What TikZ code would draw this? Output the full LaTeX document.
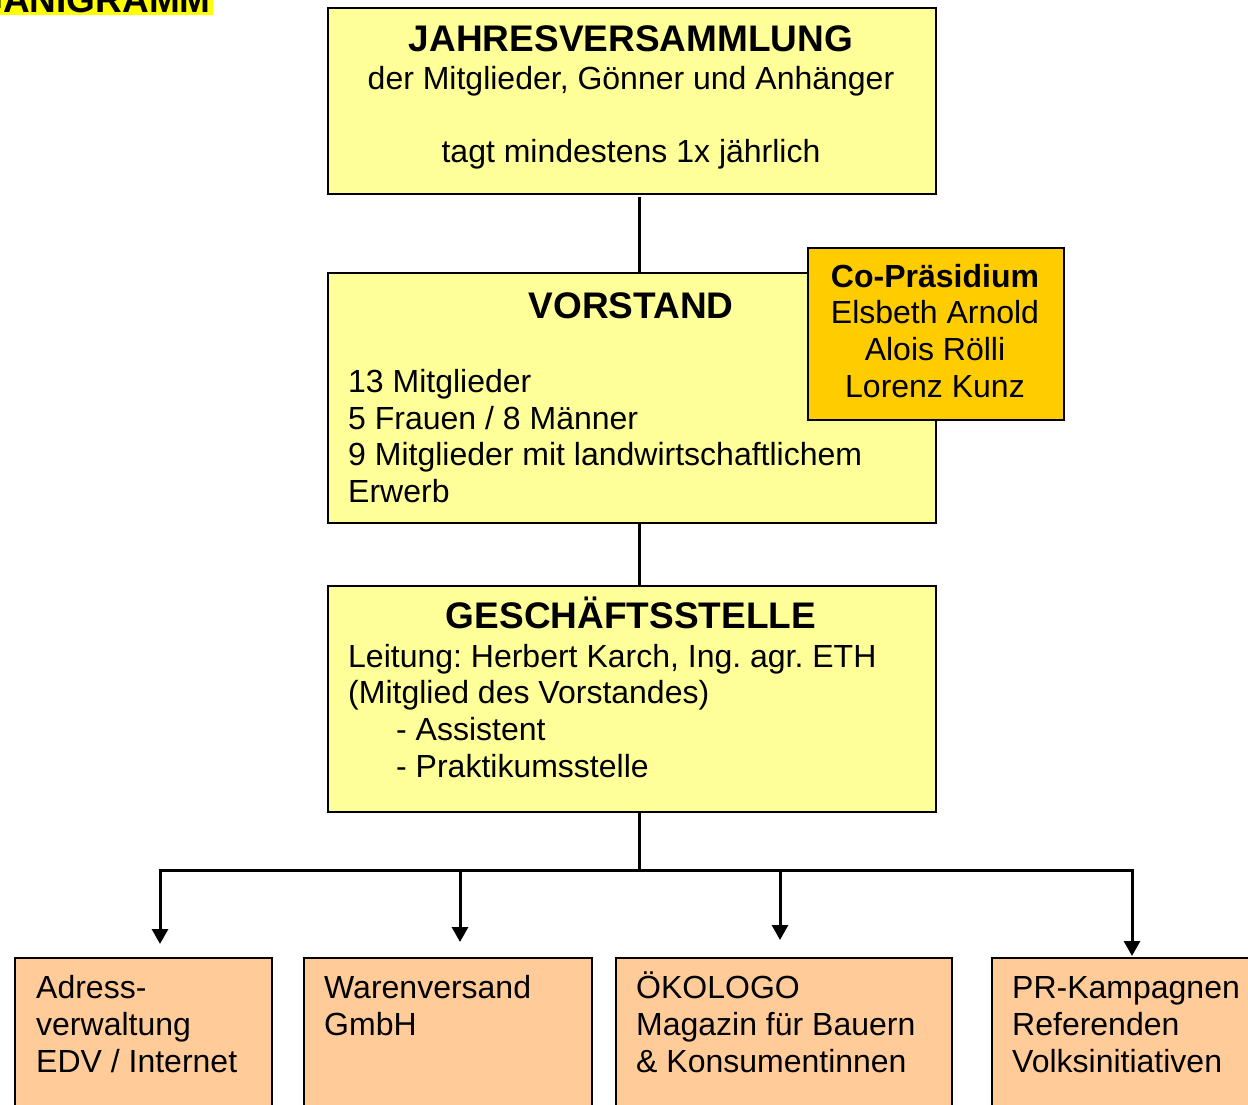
\documentclass[tikz,border=0pt]{standalone}
\usepackage{fontspec}
\setmainfont{Liberation Sans}
\usetikzlibrary{arrows.meta}
\definecolor{lightyel}{HTML}{FFFF99}
\definecolor{goldbox}{HTML}{FFCC00}
\definecolor{peach}{HTML}{FFCC99}
\definecolor{hilite}{HTML}{FFFF00}
\frenchspacing
\begin{document}
\begin{tikzpicture}[x=1pt,y=-1pt,
  box/.style={draw=black,line width=2pt,anchor=north west,inner sep=0pt},
  big/.style={font=\fontsize{37}{42}\selectfont\bfseries,inner sep=0pt},
  mid/.style={font=\fontsize{32}{36.5}\selectfont\bfseries,inner sep=0pt},
  txt/.style={font=\fontsize{32}{36.5}\selectfont,inner sep=0pt},
  conn/.style={line width=3pt},
  arr/.style={conn,-{Triangle[length=15pt,width=16pt]}}]
\useasboundingbox (0,0) rectangle (1248,1105);
\clip (0,0) rectangle (1248,1105);
\fill[white] (0,0) rectangle (1248,1105);
% title (cut off at the top, as in the reference)
\fill[hilite] (0,0) rectangle (213,15);
\node[big,anchor=base east] (title) at (211,13) {ORGANIGRAMM};
% boxes
\node[box,fill=lightyel,minimum width=608pt,minimum height=186pt] (jv) at (327,7) {};
\node[box,fill=lightyel,minimum width=608pt,minimum height=250pt] (vs) at (327,272) {};
\node[box,fill=goldbox,minimum width=256pt,minimum height=172pt] (cp) at (807,247) {};
\node[box,fill=lightyel,minimum width=608pt,minimum height=226pt] (gs) at (327,585) {};
\node[box,fill=peach,minimum width=257pt,minimum height=170pt] (b1) at (14,957) {};
\node[box,fill=peach,minimum width=288pt,minimum height=170pt] (b2) at (303,957) {};
\node[box,fill=peach,minimum width=336pt,minimum height=170pt] (b3) at (615,957) {};
\node[box,fill=peach,minimum width=300pt,minimum height=170pt] (b4) at (991,957) {};
% Jahresversammlung text
\node[big,anchor=base] (jvh) at (631,52) {JAHRESVERSAMMLUNG};
\node[txt,anchor=base] (jv1) at (631,90) {der Mitglieder, Gönner und Anhänger};
\node[txt,anchor=base] (jv2) at (631,163) {tagt mindestens 1x jährlich};
% Vorstand text
\node[big,anchor=base] (vsh) at (631,318) {VORSTAND};
\node[txt,anchor=base west] (vs1) at (348,392) {13 Mitglieder};
\node[txt,anchor=base west] (vs2) at (348,429) {5 Frauen / 8 Männer};
\node[txt,anchor=base west] (vs3) at (348,465) {9 Mitglieder mit landwirtschaftlichem};
\node[txt,anchor=base west] (vs4) at (348,502) {Erwerb};
% Co-Praesidium text
\node[mid,anchor=base] (cph) at (935,287) {Co-Präsidium};
\node[txt,anchor=base] (cp1) at (935,323) {Elsbeth Arnold};
\node[txt,anchor=base] (cp2) at (935,360) {Alois Rölli};
\node[txt,anchor=base] (cp3) at (935,397) {Lorenz Kunz};
% Geschaeftsstelle text
\node[big,anchor=base] (gsh) at (631,628) {GESCHÄFTSSTELLE};
\node[txt,anchor=base west] (gs1) at (348,667) {Leitung: Herbert Karch, Ing. agr. ETH};
\node[txt,anchor=base west] (gs2) at (348,703) {(Mitglied des Vorstandes)};
\node[txt,anchor=base west] (gs3) at (396,740) {- Assistent};
\node[txt,anchor=base west] (gs4) at (396,777) {- Praktikumsstelle};
% bottom texts
\node[txt,anchor=base west] (b1a) at (36,998) {Adress-};
\node[txt,anchor=base west] (b1b) at (36,1035) {verwaltung};
\node[txt,anchor=base west] (b1c) at (36,1072) {EDV / Internet};
\node[txt,anchor=base west] (b2a) at (324,998) {Warenversand};
\node[txt,anchor=base west] (b2b) at (324,1035) {GmbH};
\node[txt,anchor=base west] (b3a) at (636,998) {ÖKOLOGO};
\node[txt,anchor=base west] (b3b) at (636,1035) {Magazin für Bauern};
\node[txt,anchor=base west] (b3c) at (636,1072) {\& Konsumentinnen};
\node[txt,anchor=base west] (b4a) at (1012,998) {PR-Kampagnen};
\node[txt,anchor=base west] (b4b) at (1012,1035) {Referenden};
\node[txt,anchor=base west] (b4c) at (1012,1072) {Volksinitiativen};
% connectors
\coordinate (c0) at (639,197);
\coordinate (jm) at (639,870);
\coordinate (j1) at (160,870);
\coordinate (j2) at (460,870);
\coordinate (j3) at (780,870);
\coordinate (j4) at (1132,870);
\coordinate (t1) at (160,944);
\coordinate (t2) at (460,942);
\coordinate (t3) at (780,940);
\coordinate (t4) at (1132,956);
\draw[conn] (c0) -- (c0 |- vs.north);
\draw[conn] (vs.south -| c0) -- (gs.north -| c0);
\draw[conn] (gs.south -| c0) -- (jm);
\draw[conn,line cap=rect] (j1) -- (j4);
\draw[arr] (j1) -- (t1);
\draw[arr] (j2) -- (t2);
\draw[arr] (j3) -- (t3);
\draw[arr] (j4) -- (t4);
\end{tikzpicture}
\end{document}
